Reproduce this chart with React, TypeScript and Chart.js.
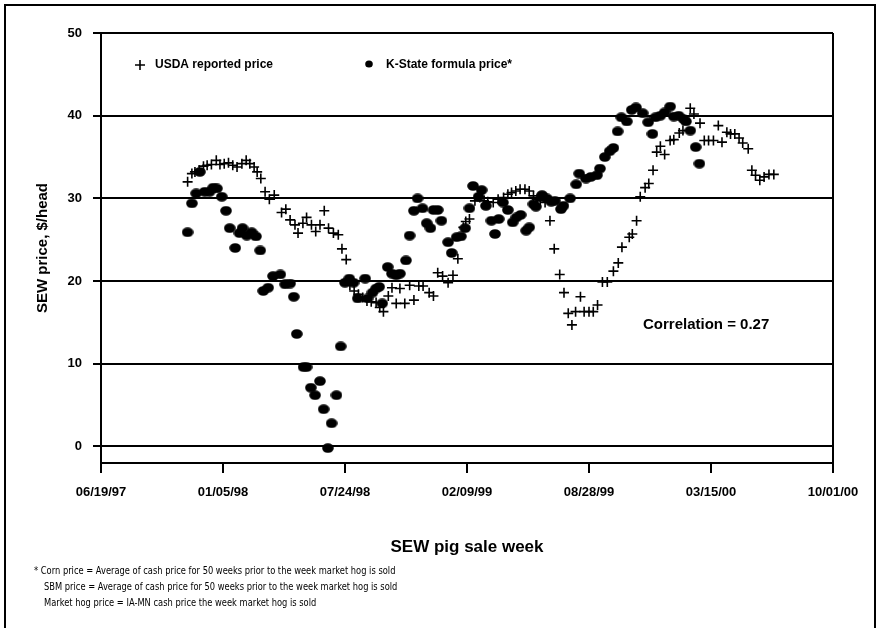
import React, { useEffect, useRef } from "react";
import { Chart, registerables } from "chart.js";

Chart.register(...registerables);

// ---- Data (Excel serial dates for the sale week) ----
const xTickSerials = [35600, 35800, 36000, 36200, 36400, 36600, 36800];
const xTickLabels = ["06/19/97", "01/05/98", "07/24/98", "02/09/99", "08/28/99", "03/15/00", "10/01/00"];
const yTickValues = [0, 10, 20, 30, 40, 50];

const seriesNames = ["USDA reported price", "K-State formula price*"];
const correlationText = "Correlation = 0.27";
const yAxisTitle = "SEW price, $/head";
const xAxisTitle = "SEW pig sale week";
const footnotes = [
  "* Corn price = Average of cash price for 50 weeks prior to the week market hog is sold",
  "SBM price = Average of cash price for 50 weeks prior to the week market hog is sold",
  "Market hog price = IA-MN cash price the week market hog is sold",
];

const usdaWeeks = [
  35742, 35749, 35754, 35761, 35768, 35774, 35781, 35789, 35795, 35802,
  35809, 35816, 35823, 35831, 35838, 35844, 35851, 35856, 35862, 35869,
  35876, 35884, 35896, 35903, 35910, 35918, 35923, 35931, 35937, 35945,
  35952, 35959, 35966, 35973, 35981, 35989, 35995, 36002, 36008, 36015,
  36022, 36029, 36036, 36043, 36051, 36057, 36063, 36071, 36077, 36084,
  36090, 36098, 36106, 36113, 36121, 36128, 36138, 36145, 36152, 36160,
  36169, 36177, 36185, 36194, 36198, 36204, 36213, 36221, 36228, 36234,
  36243, 36251, 36260, 36267, 36273, 36280, 36287, 36295, 36302, 36309,
  36315, 36320, 36328, 36336, 36343, 36352, 36359, 36366, 36372, 36378,
  36386, 36392, 36400, 36407, 36414, 36422, 36430, 36440, 36448, 36454,
  36466, 36471, 36478, 36484, 36492, 36498, 36505, 36511, 36517, 36524,
  36533, 36539, 36548, 36554, 36566, 36572, 36582, 36589, 36596, 36604,
  36612, 36618, 36626, 36632, 36639, 36646, 36652, 36661, 36667, 36673,
  36680, 36687, 36695, 36703,
];
const usdaPrice = [
  32.0, 33.0, 33.2, 33.4, 33.9, 34.0, 34.1, 34.6, 34.1, 34.2,
  34.3, 34.0, 33.8, 34.2, 34.6, 34.2, 33.8, 33.2, 32.4, 30.8,
  29.9, 30.4, 28.3, 28.7, 27.4, 26.8, 25.8, 27.0, 27.7, 26.8,
  26.0, 26.8, 28.5, 26.4, 25.8, 25.6, 23.9, 22.6, 19.5, 18.8,
  18.4, 18.0, 17.6, 17.5, 17.4, 16.8, 16.3, 18.2, 19.2, 17.3,
  19.1, 17.3, 19.5, 17.7, 19.4, 19.4, 18.6, 18.2, 21.0, 20.6,
  19.8, 20.7, 22.7, 26.5, 27.2, 27.5, 29.7, 30.1, 29.7, 29.6,
  29.5, 29.9, 30.1, 30.5, 30.7, 30.9, 31.1, 31.1, 30.9, 30.3,
  29.9, 29.7, 29.5, 27.3, 23.9, 20.8, 18.6, 16.1, 14.7, 16.3,
  18.1, 16.3, 16.3, 16.3, 17.1, 19.9, 19.9, 21.2, 22.2, 24.1,
  25.3, 25.7, 27.3, 30.2, 31.3, 31.8, 33.4, 35.6, 36.3, 35.3,
  37.0, 37.1, 37.9, 38.2, 40.9, 40.2, 39.1, 37.0, 37.0, 37.0,
  38.8, 36.8, 38.0, 37.8, 37.8, 37.3, 36.7, 36.0, 33.4, 32.8,
  32.2, 32.6, 32.9, 32.9,
];

const kstateWeeks = [
  35742, 35749, 35756, 35762, 35770, 35778, 35784, 35790, 35798, 35805,
  35811, 35820, 35827, 35832, 35839, 35847, 35854, 35861, 35866, 35874,
  35882, 35894, 35902, 35910, 35916, 35921, 35932, 35937, 35944, 35951,
  35959, 35965, 35972, 35978, 35986, 35993, 36000, 36007, 36014, 36021,
  36033, 36037, 36045, 36051, 36056, 36061, 36070, 36077, 36084, 36090,
  36100, 36106, 36113, 36119, 36127, 36134, 36140, 36145, 36152, 36158,
  36169, 36175, 36183, 36190, 36197, 36204, 36210, 36219, 36224, 36231,
  36240, 36246, 36252, 36259, 36267, 36275, 36281, 36288, 36297, 36302,
  36309, 36313, 36323, 36331, 36338, 36344, 36354, 36358, 36369, 36379,
  36384, 36395, 36403, 36413, 36418, 36426, 36434, 36440, 36447, 36453,
  36462, 36470, 36477, 36488, 36497, 36504, 36509, 36517, 36524, 36533,
  36539, 36547, 36555, 36559, 36566, 36575, 36581,
];
const kstatePrice = [
  25.9, 29.4, 30.6, 33.2, 30.8, 30.8, 31.3, 31.2, 30.2, 28.5,
  26.4, 24.0, 25.8, 26.4, 25.5, 25.9, 25.4, 23.7, 18.8, 19.2,
  20.6, 20.8, 19.6, 19.7, 18.1, 13.6, 9.6, 9.6, 7.1, 6.2,
  7.9, 4.5, -0.2, 2.8, 6.2, 12.1, 19.8, 20.3, 19.8, 17.9,
  20.3, 17.9, 18.6, 19.1, 19.3, 17.3, 21.7, 20.9, 20.7, 20.9,
  22.5, 25.5, 28.5, 30.0, 28.8, 27.0, 26.4, 28.6, 28.6, 27.3,
  24.7, 23.4, 25.3, 25.4, 26.4, 28.8, 31.5, 30.2, 31.0, 29.1,
  27.3, 25.7, 27.5, 29.5, 28.6, 27.1, 27.7, 28.0, 26.1, 26.5,
  29.3, 29.0, 30.4, 30.0, 29.6, 29.7, 28.7, 29.1, 30.0, 31.7,
  33.0, 32.4, 32.6, 32.8, 33.6, 35.0, 35.7, 36.1, 38.1, 39.8,
  39.3, 40.7, 41.0, 40.3, 39.2, 37.8, 39.8, 40.0, 40.4, 41.1,
  39.9, 40.0, 39.6, 39.3, 38.2, 36.2, 34.2,
];

const FONT = "'Liberation Sans', Arial, sans-serif";
const NARROW = "'Liberation Sans Narrow', 'DejaVu Sans Condensed', 'Liberation Sans', sans-serif";

const decorPlugin = {
  id: "decor",
  beforeDraw(chart: any) {
    const ctx = chart.ctx;
    ctx.save();
    ctx.fillStyle = "#fff";
    ctx.fillRect(0, 0, chart.width, chart.height);
    ctx.restore();
  },
  afterDraw(chart: any) {
    const ctx = chart.ctx as CanvasRenderingContext2D;
    const { top, bottom, left, right } = chart.chartArea;
    ctx.save();
    // outer frame
    ctx.strokeStyle = "#000";
    ctx.lineWidth = 2;
    ctx.beginPath();
    ctx.moveTo(5, 640);
    ctx.lineTo(5, 5);
    ctx.lineTo(875, 5);
    ctx.lineTo(875, 640);
    ctx.stroke();

    ctx.fillStyle = "#000";
    // y-axis title
    ctx.save();
    ctx.translate(43, (top + bottom) / 2);
    ctx.rotate(-Math.PI / 2);
    ctx.font = `bold 15px ${FONT}`;
    ctx.textAlign = "center";
    ctx.textBaseline = "middle";
    ctx.fillText(yAxisTitle, 0, 0);
    ctx.restore();

    // x-axis title
    ctx.font = `bold 17px ${FONT}`;
    ctx.textAlign = "center";
    ctx.textBaseline = "middle";
    ctx.fillText(xAxisTitle, (left + right) / 2, 547);

    // legend
    const ly = 65;
    ctx.lineWidth = 1.6;
    ctx.beginPath();
    ctx.moveTo(135, ly);
    ctx.lineTo(145, ly);
    ctx.moveTo(140, ly - 5);
    ctx.lineTo(140, ly + 5);
    ctx.stroke();
    ctx.beginPath();
    ctx.ellipse(369, ly - 1, 3.8, 3.6, 0, 0, Math.PI * 2);
    ctx.fill();
    ctx.font = `bold 12px ${FONT}`;
    ctx.textAlign = "left";
    ctx.fillText(seriesNames[0], 155, ly);
    ctx.fillText(seriesNames[1], 386, ly);

    // correlation
    ctx.font = `bold 15px ${FONT}`;
    ctx.fillText(correlationText, 643, 325);
    ctx.restore();
  },
};

export default function App() {
  const ref = useRef<HTMLCanvasElement>(null);

  useEffect(() => {
    const canvas = ref.current!;
    const dot = document.createElement("canvas");
    dot.width = 12;
    dot.height = 10;
    const dc = dot.getContext("2d")!;
    dc.fillStyle = "#000";
    dc.beginPath();
    dc.ellipse(6, 5, 5.8, 4.8, 0, 0, Math.PI * 2);
    dc.fill();

    const chart = new Chart(canvas, {
      type: "scatter",
      data: {
        datasets: [
          {
            label: seriesNames[1],
            data: kstateWeeks.map((w, i) => ({ x: w, y: kstatePrice[i] })),
            pointStyle: dot as any,
            pointRadius: 5,
            backgroundColor: "#000",
            borderColor: "#000",
          },
          {
            label: seriesNames[0],
            data: usdaWeeks.map((w, i) => ({ x: w, y: usdaPrice[i] })),
            pointStyle: "cross",
            pointRadius: 5,
            borderWidth: 1.6,
            borderColor: "#000",
            backgroundColor: "#000",
          },
        ],
      },
      options: {
        responsive: false,
        animation: false,
        devicePixelRatio: 1,
        events: [],
        layout: { padding: { left: 0, right: 47, top: 33, bottom: 0 } },
        plugins: { legend: { display: false }, tooltip: { enabled: false } },
        scales: {
          x: {
            type: "linear",
            position: "bottom",
            min: xTickSerials[0],
            max: xTickSerials[xTickSerials.length - 1],
            afterBuildTicks: (s: any) => {
              s.ticks = xTickSerials.map((v) => ({ value: v }));
            },
            afterFit: (s: any) => {
              s.height = 165;
            },
            ticks: {
              autoSkip: false,
              maxRotation: 0,
              padding: 12,
              color: "#000",
              font: { family: FONT, size: 13, weight: "bold" },
              callback: (_v: any, i: number) => xTickLabels[i],
            },
            grid: {
              color: (c: any) =>
                c.index === 0 || c.index === xTickSerials.length - 1 ? "#000" : "rgba(0,0,0,0)",
              tickColor: "#000",
              lineWidth: 2,
              tickLength: 10,
            },
            border: { display: true, color: "#000", width: 2 },
          },
          y: {
            type: "linear",
            min: -2,
            max: 50,
            afterBuildTicks: (s: any) => {
              s.ticks = yTickValues.map((v) => ({ value: v }));
            },
            afterFit: (s: any) => {
              s.width = 101;
            },
            ticks: {
              padding: 11,
              color: "#000",
              font: { family: FONT, size: 13, weight: "bold" },
            },
            grid: { color: "#000", lineWidth: 2, tickLength: 8, tickColor: "#000" },
            border: { display: true, color: "#000", width: 2 },
          },
        },
      },
      plugins: [decorPlugin],
    } as any);
    return () => chart.destroy();
  }, []);

  const noteStyle = (left: number, top: number): React.CSSProperties => ({
    position: "absolute",
    left,
    top,
    font: `10px ${NARROW}`,
    lineHeight: "14px",
    whiteSpace: "nowrap",
    color: "#000",
    transform: "scaleX(0.925)",
    transformOrigin: "left center",
  });

  return (
    <div style={{ position: "absolute", left: 0, top: 0, width: 880, height: 628, background: "#fff", overflow: "hidden" }}>
      <canvas ref={ref} width={880} height={628} style={{ width: 880, height: 628, display: "block" }} />
      <div style={noteStyle(34, 564)}>{footnotes[0]}</div>
      <div style={noteStyle(44, 580)}>{footnotes[1]}</div>
      <div style={noteStyle(44, 596)}>{footnotes[2]}</div>
    </div>
  );
}
